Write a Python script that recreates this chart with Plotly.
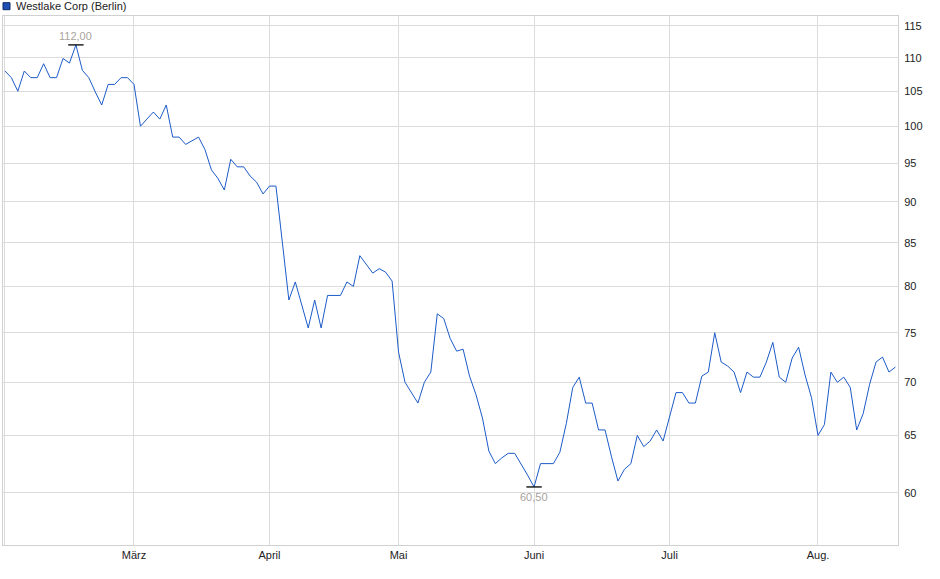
import numpy as np
import pandas as pd
import plotly.graph_objects as go

# closing prices (EUR), one list per month
feb = [108.0, 107.0, 105.0, 108.0, 107.0, 107.0, 109.1, 107.0, 107.0, 109.9,
       109.2, 112.0, 108.1, 107.0, 104.9, 103.0, 106.0, 106.0, 107.0, 107.0]
mar = [106.0, 100.0, 101.0, 102.0, 101.0, 103.0, 98.5, 98.5, 97.5, 98.0, 98.5,
       96.8, 94.1, 93.0, 91.5, 95.5, 94.5, 94.5, 93.3, 92.5, 91.0]
apr = [92.0, 92.0, 85.0, 78.5, 80.5, 78.0, 75.5, 78.5, 75.5, 79.0, 79.0, 79.0,
       80.5, 80.0, 83.5, 82.5, 81.5, 82.0, 81.6, 80.6]
may = [73.0, 70.0, 69.0, 68.0, 70.0, 71.0, 77.0, 76.5, 74.4, 73.1, 73.3, 70.6,
       68.8, 66.6, 63.6, 62.5, 63.0, 63.4, 63.4, 62.5, 61.5]
jun = [60.5, 62.5, 62.5, 62.5, 63.5, 66.1, 69.5, 70.5, 68.0, 68.0, 65.5, 65.5,
       63.1, 61.0, 62.0, 62.5, 65.0, 64.0, 64.5, 65.5, 64.5]
jul = [66.6, 69.0, 69.0, 68.0, 68.0, 70.6, 71.0, 75.0, 72.0, 71.6, 71.0, 69.0,
       71.0, 70.5, 70.5, 72.0, 74.0, 70.5, 70.0, 72.4, 73.5, 70.7, 68.5]
aug = [65.0, 66.0, 71.0, 70.0, 70.5, 69.5, 65.5, 67.0, 69.8, 72.0, 72.5, 71.0, 71.5]

prices = feb + mar + apr + may + jun + jul + aug

# trading days on the exchange (weekdays minus holidays)
holidays = ["2025-04-18", "2025-04-21", "2025-05-01"]
days = pd.bdate_range("2025-02-03", "2025-08-19")
days = days[~days.isin(pd.to_datetime(holidays))]
dates = [d.strftime("%Y-%m-%d") for d in days]

month_starts = ["2025-02-03", "2025-03-03", "2025-04-01", "2025-05-02",
                "2025-06-02", "2025-07-01", "2025-08-01"]
month_labels = ["", "März", "April", "Mai", "Juni", "Juli", "Aug."]
y_ticks = [60, 65, 70, 75, 80, 85, 90, 95, 100, 105, 110, 115]

i_max = int(np.argmax(prices))
i_min = int(np.argmin(prices))

line_col = "#1c5bc8"
grid_col = "#dcdcdc"
label_col = "#a9a39c"

fig = go.Figure()
fig.add_trace(go.Scatter(x=dates, y=prices, mode="lines",
                         line=dict(color=line_col, width=1), showlegend=False))
# little black bars at high and low
fig.add_trace(go.Scatter(x=[dates[i_max], dates[i_min]],
                         y=[prices[i_max], prices[i_min]], mode="markers",
                         marker=dict(symbol="line-ew", size=11,
                                     line=dict(color="black", width=1.3)),
                         showlegend=False))

fig.add_annotation(x=dates[i_max], y=np.log10(prices[i_max]),
                   text=f"{prices[i_max]:.2f}".replace(".", ","),
                   showarrow=False, yanchor="bottom", yshift=1,
                   font=dict(size=11, color=label_col))
fig.add_annotation(x=dates[i_min], y=np.log10(prices[i_min]),
                   text=f"{prices[i_min]:.2f}".replace(".", ","),
                   showarrow=False, yanchor="top", yshift=-2,
                   font=dict(size=11, color=label_col))

# legend box + title at top left
fig.add_shape(type="rect", xref="paper", yref="paper",
              x0=0, x1=7 / 894.5, y0=1 + 6.3 / 529, y1=1 + 13.3 / 529,
              fillcolor="#1f4fb5", line=dict(color="#0b2a66", width=1))
fig.add_annotation(xref="paper", yref="paper", x=0, y=1 + 9.8 / 529,
                   xanchor="left", yanchor="middle", xshift=11,
                   text="Westlake Corp (Berlin)", showarrow=False,
                   font=dict(size=11, color="#222222"))

fig.update_layout(
    width=940, height=579,
    margin=dict(l=3, r=42, t=16, b=34),
    paper_bgcolor="white", plot_bgcolor="white",
    font=dict(family="Liberation Sans, Arial, sans-serif", size=11, color="#222222"),
)
fig.update_xaxes(type="category", range=[-0.3, len(dates) - 0.6],
                 tickmode="array", tickvals=month_starts, ticktext=month_labels,
                 showgrid=True, gridcolor=grid_col, gridwidth=1,
                 showline=True, linecolor="#d0d0d0", mirror=True,
                 ticks="", tickfont=dict(size=11, color="#222222"))
fig.update_yaxes(type="log", range=[np.log10(55.8), np.log10(116.6)],
                 side="right", tickmode="array", tickvals=y_ticks,
                 ticktext=[str(v) for v in y_ticks],
                 showgrid=True, gridcolor=grid_col, gridwidth=1,
                 showline=True, linecolor="#d0d0d0", mirror=True,
                 ticks="", ticklabelstandoff=3,
                 tickfont=dict(size=11, color="#222222"))

# page body has an 8px margin by default; drop it so the chart sits at 0,0
fig.write_html("out.html", config={"displayModeBar": False},
               post_script="document.body.style.margin='0px';")
